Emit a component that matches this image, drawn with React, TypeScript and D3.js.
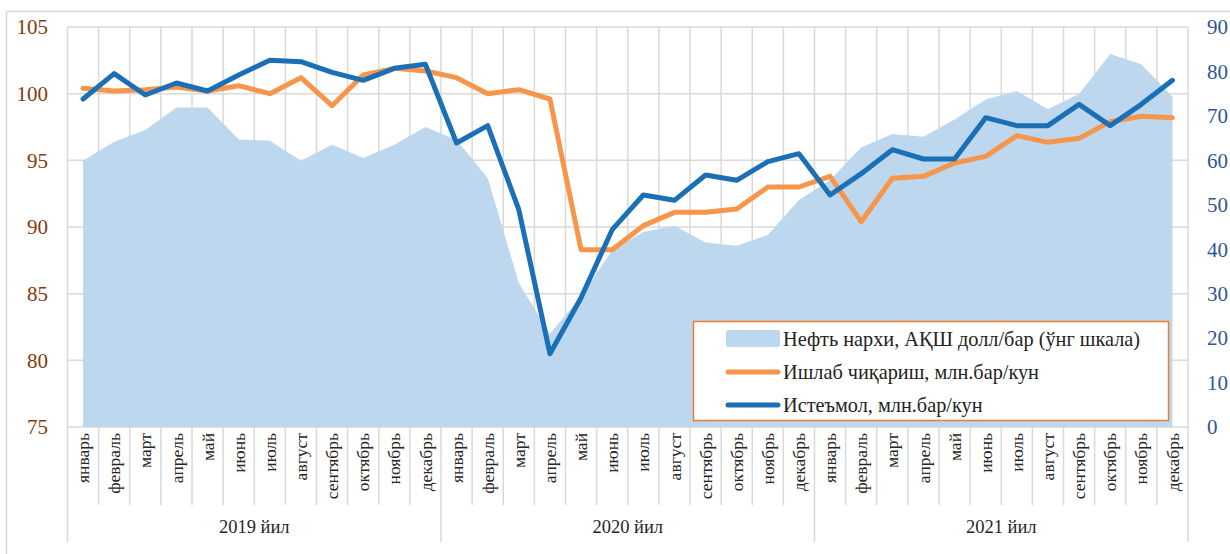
import React from "react";
import * as d3 from "d3";

const months = ["январь", "февраль", "март", "апрель", "май", "июнь", "июль", "август", "сентябрь", "октябрь", "ноябрь", "декабрь"];
const years = ["2019 йил", "2020 йил", "2021 йил"];

const oilPrice = [59.9, 64.2, 66.8, 71.9, 71.9, 64.7, 64.4, 59.9, 63.5, 60.5, 63.5, 67.5,
  64.6, 56.0, 32.4, 21.0, 29.3, 39.8, 43.9, 45.3, 41.5, 40.8, 43.2, 51.1,
  55.6, 62.9, 65.9, 65.3, 69.2, 73.7, 75.6, 71.5, 74.9, 83.9, 81.6, 74.3];

const production = [100.4, 100.2, 100.3, 100.5, 100.2, 100.6, 100.0, 101.2, 99.1, 101.4, 101.9, 101.7,
  101.2, 100.0, 100.3, 99.6, 88.3, 88.3, 90.1, 91.1, 91.1, 91.35, 93.0, 93.0,
  93.8, 90.4, 93.65, 93.8, 94.8, 95.3, 96.85, 96.35, 96.65, 97.9, 98.3, 98.2];

const consumption = [99.6, 101.5, 99.9, 100.8, 100.2, 101.4, 102.5, 102.4, 101.6, 101.0, 101.9, 102.2,
  96.3, 97.6, 91.3, 80.5, 84.7, 89.8, 92.4, 92.0, 93.9, 93.5, 94.9, 95.5,
  92.4, 94.0, 95.8, 95.1, 95.1, 98.2, 97.6, 97.6, 99.2, 97.6, 99.2, 101.0];

const leftTicks = [75, 80, 85, 90, 95, 100, 105];
const rightTicks = [0, 10, 20, 30, 40, 50, 60, 70, 80, 90];

const legendLabels = [
  "Нефть нархи, АҚШ долл/бар (ўнг шкала)",
  "Ишлаб чиқариш, млн.бар/кун",
  "Истеъмол, млн.бар/кун",
];

const FONT = "Liberation Serif";
const AREA = "#BDD7EE";
const ORANGE = "#F7964A";
const BLUE = "#1A6FB6";
const GRID = "#D9D9D9";
const TXT = { fontFamily: FONT };

export default function App() {
  const W = 1230, H = 554;
  const L = 67.5, R = 1188, T = 27, B = 427;
  const cats = d3.range(36).map(String);
  const x = d3.scaleBand().domain(cats).range([L, R]).padding(0);
  const cx = (i: number) => (x(String(i)) as number) + x.bandwidth() / 2;
  const yL = d3.scaleLinear().domain([75, 105]).range([B, T]);
  const yR = d3.scaleLinear().domain([0, 90]).range([B, T]);

  const area = d3.area<number>().x((_, i) => cx(i)).y0(B).y1((d) => yR(d));
  const lineL = d3.line<number>().x((_, i) => cx(i)).y((d) => yL(d));

  const bw = x.bandwidth();
  const boundaries = d3.range(37).map((i) => L + i * bw);

  return (
    <svg width={W} height={H} style={{ display: "block", fontFamily: FONT }}>
      <style>{"body{margin:0}"}</style>
      <rect x={0} y={0} width={W} height={H} fill="#fff" />
      <rect x={6.5} y={11.5} width={W + 10} height={H + 10} fill="none" stroke={GRID} strokeWidth={1.5} />
      {leftTicks.map((t) => (
        <line key={"h" + t} x1={L} x2={R} y1={yL(t)} y2={yL(t)} stroke={GRID} strokeWidth={1.5} />
      ))}
      {boundaries.map((bx, i) => (
        <line key={"v" + i} x1={bx} x2={bx} y1={T} y2={B} stroke={GRID} strokeWidth={1.5} />
      ))}
      {boundaries.map((bx, i) => (
        <line key={"s" + i} x1={bx} x2={bx} y1={B} y2={i % 12 === 0 ? 542 : 505} stroke={GRID} strokeWidth={1.5} />
      ))}
      <path d={area(oilPrice) as string} fill={AREA} />
      <path d={lineL(production) as string} fill="none" stroke={ORANGE} strokeWidth={5} strokeLinejoin="round" strokeLinecap="round" />
      <path d={lineL(consumption) as string} fill="none" stroke={BLUE} strokeWidth={5} strokeLinejoin="round" strokeLinecap="round" />
      {leftTicks.map((t) => (
        <text key={"lt" + t} x={48} y={yL(t)} dy="0.35em" textAnchor="end" fontSize={21} fill="#843C0C" style={TXT}>{t}</text>
      ))}
      {rightTicks.map((t) => (
        <text key={"rt" + t} x={1207} y={yR(t)} dy="0.35em" textAnchor="start" fontSize={21} fill="#2F5597" style={TXT}>{t}</text>
      ))}
      {d3.range(36).map((i) => (
        <text key={"c" + i} transform={`translate(${cx(i)},433) rotate(-90)`} textAnchor="end" dy="0.35em" fontSize={17.5} fill="#262626" style={TXT}>
          {months[i % 12]}
        </text>
      ))}
      {years.map((yr, k) => (
        <text key={yr} x={L + (k * 12 + 6) * bw} y={527} dy="0.35em" textAnchor="middle" fontSize={18.5} fill="#262626" style={TXT}>{yr}</text>
      ))}
      <g>
        <rect x={693.5} y={321.5} width={475} height={99} fill="#fff" stroke="#ED7D31" strokeWidth={1.5} />
        <rect x={726} y={330} width={54} height={17} rx={2} fill={AREA} />
        <line x1={728} x2={778} y1={372} y2={372} stroke={ORANGE} strokeWidth={5} strokeLinecap="round" />
        <line x1={728} x2={778} y1={405} y2={405} stroke={BLUE} strokeWidth={5} strokeLinecap="round" />
        {legendLabels.map((lab, i) => (
          <text key={lab} x={783} y={339 + i * 33} dy="0.35em" fontSize={20.3} fill="#222" style={TXT}>{lab}</text>
        ))}
      </g>
    </svg>
  );
}
